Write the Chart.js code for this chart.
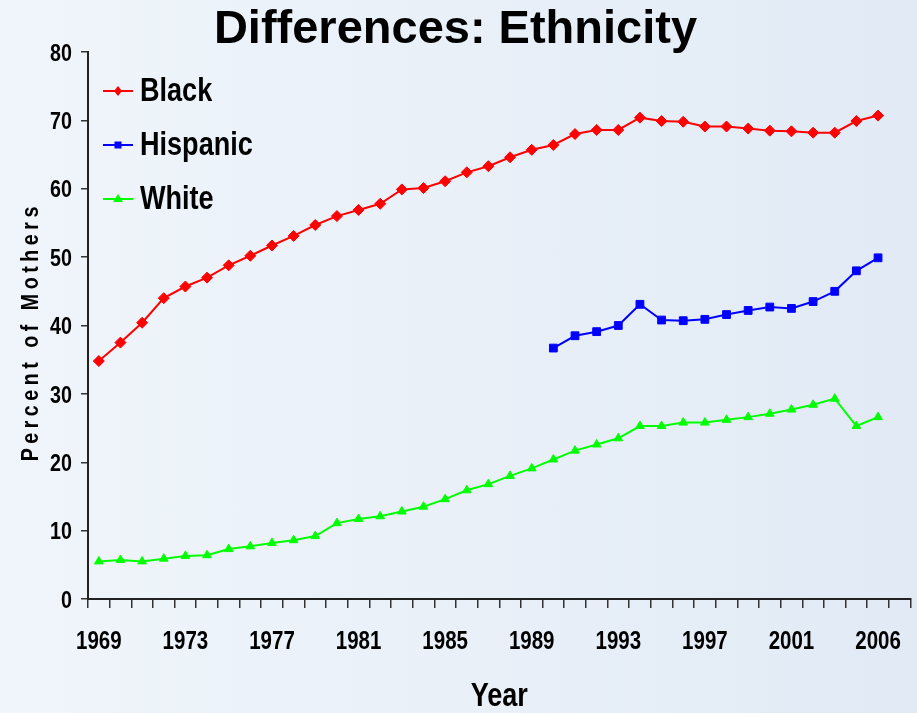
<!DOCTYPE html>
<html>
<head>
<meta charset="utf-8">
<script src="https://cdn.jsdelivr.net/npm/chart.js"></script>
<style>
	html, body { margin: 0; padding: 0; }
	#wrap {
		width: 917px;
		height: 713px;
		background: linear-gradient(to right, #f0f5fb 0%, #e9f0f8 50%, #e1eaf5 100%);
	}
</style>
</head>
<body>
<div id="wrap"><canvas id="ethnicity"></canvas></div>
<script>
// VARIABLES ================================================

// 2004 has no point in the source chart, and one empty slot sits after 2006
const years = [
	"1969", "1970", "1971", "1972", "1973", "1974", "1975", "1976", "1977", "1978",
	"1979", "1980", "1981", "1982", "1983", "1984", "1985", "1986", "1987", "1988",
	"1989", "1990", "1991", "1992", "1993", "1994", "1995", "1996", "1997", "1998",
	"1999", "2000", "2001", "2002", "2003", "2005", "2006", "",
];
const tickYears = ["1969", "1973", "1977", "1981", "1985", "1989", "1993", "1997", "2001", "2006"];

const black = [
	34.8, 37.5, 40.4, 44.0, 45.7, 47.0, 48.8, 50.2, 51.7, 53.1,
	54.7, 56.0, 56.9, 57.8, 59.9, 60.1, 61.1, 62.4, 63.3, 64.6,
	65.7, 66.4, 68.0, 68.6, 68.6, 70.4, 69.9, 69.8, 69.1, 69.1,
	68.8, 68.5, 68.4, 68.2, 68.2, 69.9, 70.7,
];
const hispanic = [
	null, null, null, null, null, null, null, null, null, null,
	null, null, null, null, null, null, null, null, null, null,
	null, 36.7, 38.5, 39.1, 40.0, 43.1, 40.8, 40.7, 40.9, 41.6,
	42.2, 42.7, 42.5, 43.5, 45.0, 48.0, 49.9,
];
const white = [
	5.5, 5.7, 5.5, 5.9, 6.3, 6.4, 7.3, 7.7, 8.2, 8.6,
	9.2, 11.1, 11.7, 12.1, 12.8, 13.5, 14.6, 15.9, 16.8, 18.0,
	19.1, 20.4, 21.7, 22.6, 23.5, 25.3, 25.3, 25.8, 25.8, 26.2,
	26.6, 27.1, 27.7, 28.4, 29.3, 25.3, 26.6,
];

const family = '"Liberation Sans", Arial, sans-serif';
const squeeze = 0.82; // no narrow face installed, so squeeze the bold one

// FUNCTIONS ================================================

// bold text squeezed sideways, optional letter spacing and rotation
function narrowText(ctx, text, x, y, size, align, spacing, angle) {
	ctx.save();
	ctx.font = "bold " + size + "px " + family;
	ctx.fillStyle = "#000";
	ctx.textBaseline = "middle";
	ctx.translate(x, y);
	if (angle) ctx.rotate(angle);
	ctx.scale(squeeze, 1);
	if (!spacing) {
		ctx.textAlign = align;
		ctx.fillText(text, 0, 0);
	} else {
		const gap = spacing / squeeze;
		let total = 0;
		for (let i = 0; i < text.length; i++) total += ctx.measureText(text[i]).width;
		total += gap * (text.length - 1);
		let pos = align === "center" ? -total / 2 : align === "right" ? -total : 0;
		ctx.textAlign = "left";
		for (let i = 0; i < text.length; i++) {
			ctx.fillText(text[i], pos, 0);
			pos += ctx.measureText(text[i]).width + gap;
		}
	}
	ctx.restore();
}

// tick labels, axis titles and the legend
const labelsPlugin = {
	id: "labelsPlugin",
	afterDraw: function (chart) {
		const ctx = chart.ctx;
		const area = chart.chartArea;
		const xs = chart.scales.x;
		const ys = chart.scales.y;

		xs.ticks.forEach(function (t, i) {
			if (tickYears.includes(years[i])) {
				narrowText(ctx, years[i], xs.getPixelForTick(i), area.bottom + 43, 25, "center");
			}
		});
		ys.ticks.forEach(function (t) {
			narrowText(ctx, String(t.value), area.left - 16, ys.getPixelForValue(t.value) + 2, 24, "right");
		});

		narrowText(ctx, "Year", (area.left + area.right) / 2, 697, 33, "center");
		narrowText(ctx, "Percent of Mothers", 31, 334, 24, "center", 4.5, -Math.PI / 2);

		const rows = [39, 93, 147];
		chart.data.datasets.forEach(function (ds, i) {
			const y = area.top + rows[i];
			const x0 = area.left + 15;
			const x1 = area.left + 45;
			const cx = (x0 + x1) / 2;
			ctx.save();
			ctx.strokeStyle = ds.borderColor;
			ctx.fillStyle = ds.borderColor;
			ctx.lineWidth = 2;
			ctx.beginPath();
			ctx.moveTo(x0, y);
			ctx.lineTo(x1, y);
			ctx.stroke();
			ctx.beginPath();
			if (ds.pointStyle === "rectRot") {
				ctx.moveTo(cx, y - 5);
				ctx.lineTo(cx + 4, y);
				ctx.lineTo(cx, y + 5);
				ctx.lineTo(cx - 4, y);
			} else if (ds.pointStyle === "rect") {
				ctx.rect(cx - 3.5, y - 3.5, 7, 7);
			} else {
				ctx.moveTo(cx, y - 5);
				ctx.lineTo(cx + 5, y + 3);
				ctx.lineTo(cx - 5, y + 3);
			}
			ctx.closePath();
			ctx.fill();
			ctx.restore();
			narrowText(ctx, ds.label, x1 + 7, y + 1, 33, "left");
		});
	},
};

const config = {
	type: "line",
	data: {
		labels: years,
		datasets: [
			{ label: "Black", data: black, borderColor: "#ff0000", backgroundColor: "#ff0000", pointStyle: "rectRot", pointRadius: 5.5 },
			{ label: "Hispanic", data: hispanic, borderColor: "#0000ff", backgroundColor: "#0000ff", pointStyle: "rect", pointRadius: 5.5 },
			{ label: "White", data: white, borderColor: "#00ff00", backgroundColor: "#00ff00", pointStyle: "triangle", pointRadius: 5 },
		],
	},
	options: {
		responsive: true,
		maintainAspectRatio: false,
		animation: false,
		events: [],
		elements: {
			line: { borderWidth: 2, tension: 0 },
			point: { borderWidth: 1 },
		},
		layout: { padding: { left: 0, right: 6, top: 0, bottom: 0 } },
		plugins: {
			legend: { display: false },
			tooltip: { enabled: false },
			title: {
				display: true,
				text: "Differences: Ethnicity",
				color: "#000",
				font: { family: family, size: 47, weight: "bold", lineHeight: 1 },
				padding: { top: 7, bottom: -2 },
			},
		},
		scales: {
			x: {
				type: "category",
				offset: true,
				afterFit: function (scale) {
					scale.height = 114;
				},
				grid: { offset: true, drawOnChartArea: false, tickLength: 9, color: "#333", lineWidth: 1.5 },
				border: { color: "#222", width: 2 },
				ticks: { display: false, autoSkip: false, maxRotation: 0 },
			},
			y: {
				min: 0,
				max: 80,
				afterFit: function (scale) {
					scale.width = 88;
				},
				grid: { drawOnChartArea: false, tickLength: 7, color: "#333", lineWidth: 1.5 },
				border: { color: "#222", width: 2 },
				ticks: { display: false, stepSize: 10 },
			},
		},
	},
	plugins: [labelsPlugin],
};

new Chart(document.getElementById("ethnicity"), config);

// END ======================================================
</script>
</body>
</html>
